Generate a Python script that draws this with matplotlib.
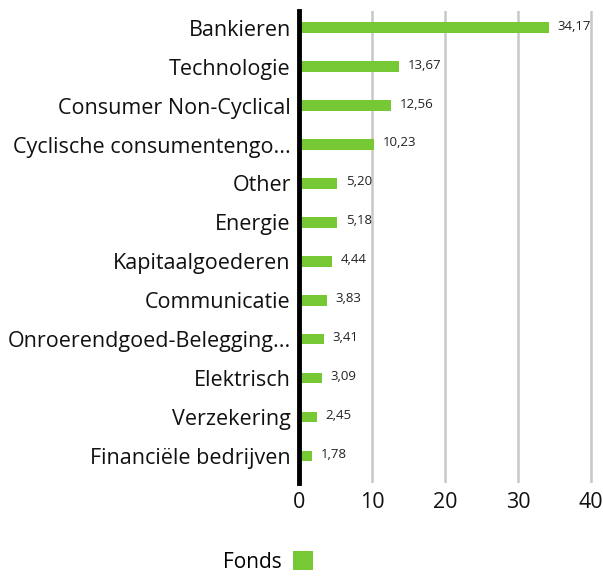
import matplotlib.pyplot as plt
from matplotlib.patches import Patch

categories = [
    "Bankieren",
    "Technologie",
    "Consumer Non-Cyclical",
    "Cyclische consumentengo...",
    "Other",
    "Energie",
    "Kapitaalgoederen",
    "Communicatie",
    "Onroerendgoed-Belegging...",
    "Elektrisch",
    "Verzekering",
    "Financiële bedrijven",
]
fonds = [34.17, 13.67, 12.56, 10.23, 5.20, 5.18, 4.44, 3.83, 3.41, 3.09, 2.45, 1.78]
xticks = [0, 10, 20, 30, 40]

green = "#76c935"

plt.rcParams['font.family'] = ['Open Sans', 'DejaVu Sans']

fig = plt.figure(figsize=(6.03, 5.76), dpi=100)
ax = fig.add_axes([0.496, 0.161, 0.487, 0.82])

pos = list(range(len(categories)))
ax.barh(pos, fonds, height=0.27, color=green, zorder=3)

for y, v in zip(pos, fonds):
    ax.text(v + 1.2, y - 0.04, f"{v:.2f}".replace(".", ","), fontsize=9.5,
            va="center", ha="left", color="#222222")

ax.set_yticks(pos)
ax.set_yticklabels(categories, fontsize=15.5, color="#111111")
ax.set_ylim(11.7, -0.43)
ax.set_xlim(0, 40.2)
ax.set_xticks(xticks)
ax.set_xticklabels([str(t) for t in xticks], fontsize=15.5, color="#111111")
ax.tick_params(axis="both", length=0)
ax.tick_params(axis="x", pad=6)
ax.tick_params(axis="y", pad=6)

ax.grid(axis="x", color="#c8c8c8", linewidth=1.8, zorder=0)
for side in ["top", "right", "bottom"]:
    ax.spines[side].set_visible(False)
ax.spines["left"].set_linewidth(3.5)
ax.spines["left"].set_color("black")
ax.spines["left"].set_zorder(4)

handle = Patch(facecolor=green, edgecolor="none")
fig.legend([handle], ["Fonds"], loc="center", bbox_to_anchor=(0.445, 0.024),
           frameon=False, markerfirst=False, fontsize=15, handlelength=1.0,
           handleheight=1.0, handletextpad=0.5)

fig.savefig("out.png", dpi=100)
